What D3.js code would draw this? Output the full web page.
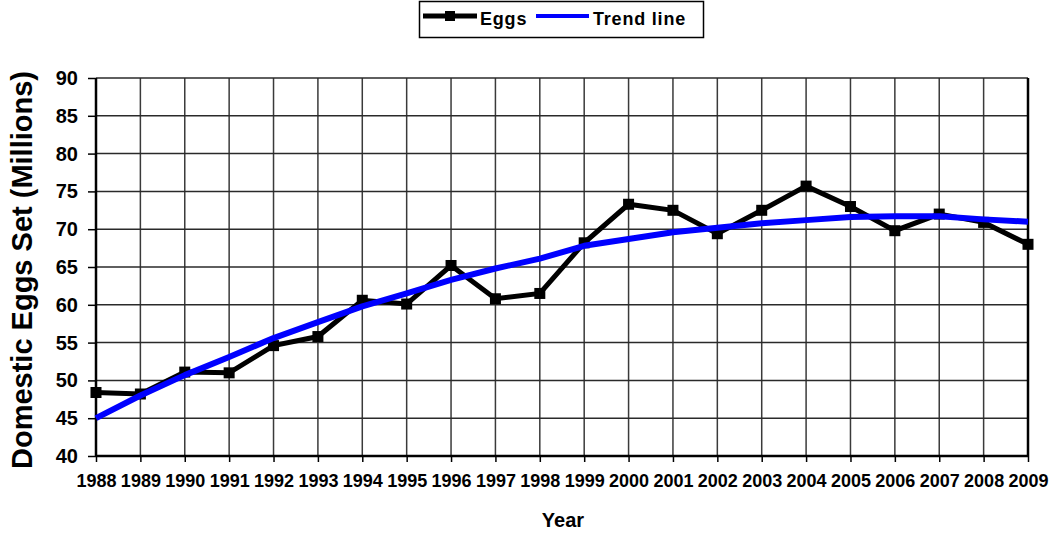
<!DOCTYPE html>
<meta charset="utf-8">
<style>
body { margin: 0; background: #fff; }
text { font-family: "Liberation Sans", Arial, sans-serif; font-weight: bold; fill: #000; }
</style>
<svg id="chart" width="1055" height="535"></svg>
<script src="https://cdn.jsdelivr.net/npm/d3@7"></script>
<script>
const years = [1988, 1989, 1990, 1991, 1992, 1993, 1994, 1995, 1996, 1997, 1998,
  1999, 2000, 2001, 2002, 2003, 2004, 2005, 2006, 2007, 2008, 2009]
const eggs = [48.4, 48.2, 51.1, 51.0, 54.6, 55.8, 60.6, 60.1, 65.2, 60.8, 61.5,
  68.2, 73.3, 72.5, 69.4, 72.5, 75.7, 73.0, 69.8, 72.0, 70.9, 68.0]
const trend = [45.0, 48.0, 50.7, 53.1, 55.6, 57.7, 59.8, 61.5, 63.3, 64.8, 66.1,
  67.8, 68.7, 69.6, 70.2, 70.8, 71.2, 71.6, 71.7, 71.7, 71.3, 71.0]
const yTicks = [40, 45, 50, 55, 60, 65, 70, 75, 80, 85, 90]

const margin = {top: 78, right: 27, bottom: 79, left: 96},
    width = 1055 - margin.left - margin.right,
    height = 535 - margin.top - margin.bottom

const svg = d3.select("#chart")
const g = svg.append("g")
    .attr("transform", `translate(${margin.left}, ${margin.top})`)

const x = d3.scaleLinear().domain([1988, 2009]).range([0, width])
const y = d3.scaleLinear().domain([40, 90]).range([height, 0])

// grid
g.append("g").selectAll("line").data(years).join("line")
    .attr("x1", d => x(d)).attr("x2", d => x(d))
    .attr("y1", 0).attr("y2", height)
    .attr("stroke", "#3a3a3a").attr("stroke-width", 1.5)
g.append("g").selectAll("line").data(yTicks).join("line")
    .attr("x1", 0).attr("x2", width)
    .attr("y1", d => y(d)).attr("y2", d => y(d))
    .attr("stroke", "#2a2a2a").attr("stroke-width", 1.5)

// axes
const yAxis = g.append("g")
    .call(d3.axisLeft(y).tickValues(yTicks).tickSize(8).tickPadding(10))
yAxis.select(".domain").attr("stroke-width", 2.5).attr("d", `M0,0V${height}`)
yAxis.selectAll(".tick line").attr("stroke-width", 1.5)
yAxis.selectAll("text").style("font-size", "20px")

const xAxis = g.append("g")
    .attr("transform", `translate(0, ${height})`)
    .call(d3.axisBottom(x).tickValues(years).tickFormat(d3.format("d")).tickSize(6).tickPadding(12))
xAxis.select(".domain").attr("stroke-width", 2.5).attr("d", `M0,0H${width}`)
xAxis.selectAll(".tick line").attr("stroke-width", 1.5)
xAxis.selectAll("text").style("font-size", "18px").attr("dy", "0.72em")

// right border
g.append("line")
    .attr("x1", width).attr("x2", width).attr("y1", 0).attr("y2", height)
    .attr("stroke", "#000").attr("stroke-width", 2.5)

// series
const line = d3.line()
g.append("path")
    .attr("d", line(years.map((d, i) => [x(d), y(eggs[i])])))
    .attr("fill", "none").attr("stroke", "#000").attr("stroke-width", 5)

g.append("g").selectAll("rect").data(years).join("rect")
    .attr("x", d => x(d) - 5.5).attr("y", (d, i) => y(eggs[i]) - 5.5)
    .attr("width", 11).attr("height", 11).attr("fill", "#000")

g.append("path")
    .attr("d", line(years.map((d, i) => [x(d), y(trend[i])])))
    .attr("fill", "none").attr("stroke", "#0000ff").attr("stroke-width", 6)
    .attr("stroke-linejoin", "round")

// axis titles
svg.append("text")
    .attr("transform", `translate(32, 270) rotate(-90)`)
    .attr("text-anchor", "middle")
    .style("font-size", "29px")
    .text("Domestic Eggs Set (Millions)")

svg.append("text")
    .attr("x", 563).attr("y", 527)
    .attr("text-anchor", "middle")
    .style("font-size", "20px")
    .text("Year")

// legend
const legend = svg.append("g")
legend.append("rect")
    .attr("x", 419.5).attr("y", 1.5).attr("width", 284).attr("height", 36)
    .attr("fill", "#fff").attr("stroke", "#000").attr("stroke-width", 1.5)
legend.append("line")
    .attr("x1", 423).attr("x2", 477).attr("y1", 16).attr("y2", 16)
    .attr("stroke", "#000").attr("stroke-width", 5)
legend.append("rect")
    .attr("x", 445).attr("y", 11).attr("width", 10).attr("height", 10).attr("fill", "#000")
legend.append("text")
    .attr("x", 480).attr("y", 25).style("font-size", "18px")
    .style("letter-spacing", "0.8px").text("Eggs")
legend.append("line")
    .attr("x1", 536).attr("x2", 589).attr("y1", 16).attr("y2", 16)
    .attr("stroke", "#0000ff").attr("stroke-width", 4)
legend.append("text")
    .attr("x", 593).attr("y", 25).style("font-size", "18px")
    .style("letter-spacing", "0.8px").text("Trend line")
</script>
